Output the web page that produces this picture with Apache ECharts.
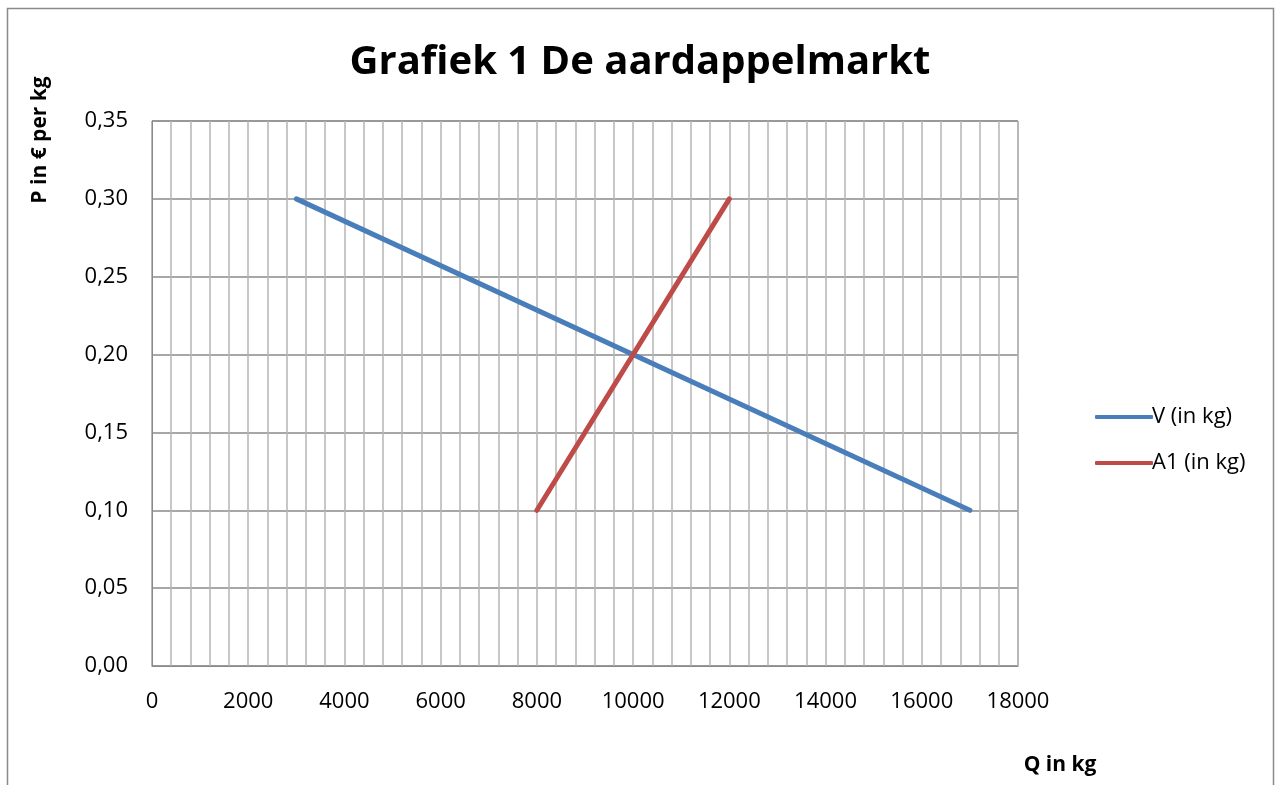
<!DOCTYPE html>
<html><head><meta charset="utf-8">
<script src="https://cdn.jsdelivr.net/npm/echarts@6/dist/echarts.min.js"></script>
<style>html,body{margin:0;padding:0;background:#fff}#c{width:1280px;height:785px}</style>
</head><body><div id="c"></div>
<script>
const title = 'Grafiek 1 De aardappelmarkt';
const xName = 'Q in kg';
const yName = 'P in € per kg';
const seriesNames = ['V (in kg)', 'A1 (in kg)'];
const vQ = [3000, 17000];
const vP = [0.30, 0.10];
const a1Q = [8000, 12000];
const a1P = [0.10, 0.30];
const colors = ['#4a7ebb', '#be4b48'];

const chart = echarts.init(document.getElementById('c'), null, {renderer: 'canvas'});
const font = '"Open Sans", "Liberation Sans", sans-serif';
chart.setOption({
  animation: false,
  backgroundColor: '#fff',
  textStyle: {fontFamily: font},
  title: {
    text: title, left: 'center', top: 38,
    textStyle: {fontSize: 40, fontWeight: 'bold', color: '#000', fontFamily: font}
  },
  grid: {left: 152, top: 121, width: 866, height: 545, containLabel: false,
    show: true, borderColor: '#8a8a8a', borderWidth: 1},
  legend: {
    orient: 'vertical', left: 1090, top: 401, itemGap: 24,
    itemWidth: 58, itemHeight: 4,
    icon: 'roundRect',
    textStyle: {fontSize: 22, color: '#000', fontFamily: font, padding: [0,0,0,-6]},
    data: seriesNames
  },
  xAxis: {
    type: 'value', min: 0, max: 18000, interval: 400,
    axisLine: {show: true, lineStyle: {color: '#8a8a8a'}},
    axisTick: {show: false},
    axisLabel: {fontSize: 22, color: '#000', margin: 25,
      formatter: v => (v % 2000 === 0 ? String(v) : '')},
    splitLine: {show: true, lineStyle: {color: '#b4b4b4', width: 1.5}}
  },
  yAxis: {
    type: 'value', min: 0, max: 0.35, interval: 0.05,
    axisLine: {show: true, lineStyle: {color: '#8a8a8a'}},
    axisTick: {show: false},
    axisLabel: {fontSize: 22, color: '#000', margin: 24,
      formatter: v => v.toFixed(2).replace('.', ',')},
    splitLine: {show: true, lineStyle: {color: '#8a8a8a', width: 1.5}}
  },
  series: [
    {name: seriesNames[0], type: 'line', symbol: 'none', data: vQ.map((q, i) => [q, vP[i]]),
      lineStyle: {color: colors[0], width: 5, cap: 'round'}, itemStyle: {color: colors[0]}},
    {name: seriesNames[1], type: 'line', symbol: 'none', data: a1Q.map((q, i) => [q, a1P[i]]),
      lineStyle: {color: colors[1], width: 5, cap: 'round'}, itemStyle: {color: colors[1]}}
  ],
  graphic: [
    {type: 'rect', shape: {x: 7.5, y: 8.5, width: 1266, height: 790}, silent: true,
      style: {fill: null, stroke: '#8a8a8a', lineWidth: 1.5}, z: -1},
    {type: 'text', x: 40, y: 140, rotation: Math.PI / 2, silent: true,
      style: {text: yName, font: 'bold 21px ' + font, fill: '#000', align: 'center', verticalAlign: 'middle'}},
    {type: 'text', x: 1060, y: 765, silent: true,
      style: {text: xName, font: 'bold 21px ' + font, fill: '#000', align: 'center', verticalAlign: 'middle'}}
  ]
});
</script></body></html>
